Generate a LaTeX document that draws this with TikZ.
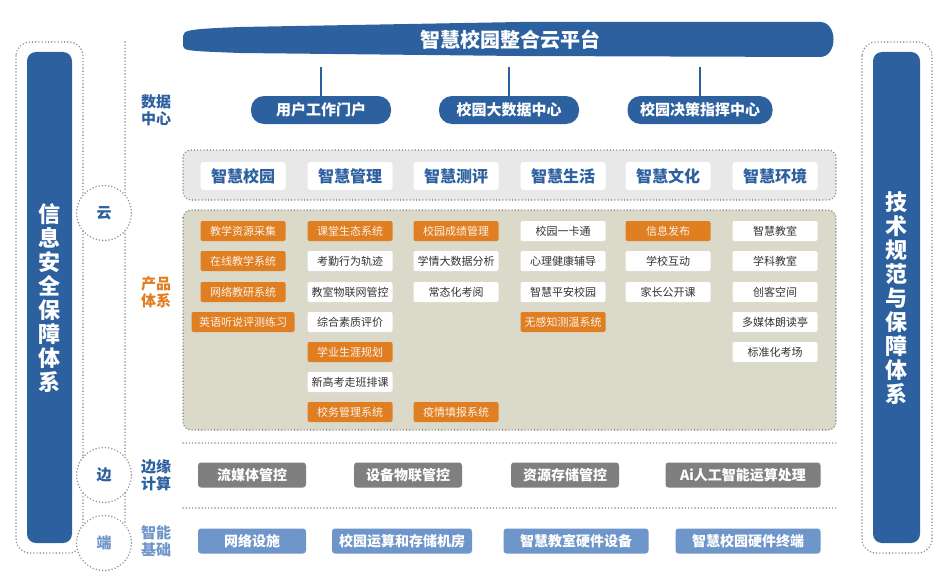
\documentclass[tikz,border=0pt]{standalone}
\usepackage{fontspec}
\setmainfont{Noto Sans CJK SC}
\usetikzlibrary{shapes.geometric}
\definecolor{mblue}{HTML}{2D609F}
\definecolor{morange}{HTML}{E07F22}
\definecolor{mgray}{HTML}{7F7F7F}
\definecolor{lblue}{HTML}{6F96CA}
\definecolor{beige}{HTML}{DBD9C9}
\definecolor{lgray}{HTML}{E8E8E8}
\definecolor{dotc}{HTML}{8A8A8A}
\tikzset{
 dots/.style={draw=dotc,line width=1.6pt,dash pattern=on 0pt off 3.2pt,line cap=round},
 pill/.style={fill=mblue,text=white,rounded corners=13pt,minimum height=28pt,font=\bfseries\fontsize{15}{15}\selectfont,inner xsep=8pt},
 cat/.style={fill=white,text=mblue,rounded corners=3pt,minimum width=85pt,minimum height=28pt,font=\bfseries\fontsize{16}{16}\selectfont},
 it/.style={fill=white,text=black!80,rounded corners=2pt,minimum width=85pt,minimum height=20pt,inner xsep=2pt,font=\mdseries\fontsize{11}{11}\selectfont},
 ito/.style={it,fill=morange,text=white!90!morange},
 edge/.style={fill=mgray,text=white,rounded corners=3pt,minimum height=25pt,font=\bfseries\fontsize{14}{14}\selectfont},
 base/.style={edge,fill=lblue},
 lab/.style={font=\bfseries\fontsize{15}{17}\selectfont,align=center},
 bar/.style={fill=mblue,rounded corners=9pt},
 circ/.style={dots,circle,minimum size=55pt,fill=white,font=\bfseries\fontsize{15}{15}\selectfont}
}
\begin{document}
\begin{tikzpicture}[x=1pt,y=-1pt]
\useasboundingbox (0,0) rectangle (948,578);
\fill[white] (0,0) rectangle (948,578);
\bfseries
% left & right frames
\draw[dots,rounded corners=14pt] (16,42) rectangle (83,553);
\fill[bar] (27,52) rectangle (72,543);
\node[text=white,font=\bfseries\fontsize{22}{24}\selectfont,align=center] (lt) at (49.5,298) {信\\息\\安\\全\\保\\障\\体\\系};
\draw[dots] (125,42) -- (125,525);
\draw[dots,rounded corners=14pt] (862,42) rectangle (932,553);
\fill[bar] (873,52) rectangle (920,543);
\node[text=white,font=\bfseries\fontsize{22}{24}\selectfont,align=center] (rt) at (896.5,298) {技\\术\\规\\范\\与\\保\\障\\体\\系};
\node[circ,text=mblue] (c1) at (104,213) {云};
\node[circ,text=mblue] (c2) at (104,475) {边};
\node[circ,text=lblue] (c3) at (104,543) {端};
% banner
\fill[mblue] (183,36) .. controls (183,30) and (190,29) .. (240,27) -- (520,22) -- (820,22) .. controls (838,22) and (838,57) .. (820,57) -- (520,56) -- (240,53) .. controls (190,51) and (183,51) .. (183,46) -- cycle;
\node[text=white,font=\bfseries\fontsize{20}{20}\selectfont] (ban) at (510,40) {智慧校园整合云平台};
\coordinate (t1) at (321,67); \coordinate (t2) at (509,67); \coordinate (t3) at (700,67);
\node[pill,minimum width=140pt] (p1) at (321,110) {用户工作门户};
\node[pill,minimum width=140pt] (p2) at (509,110) {校园大数据中心};
\node[pill,minimum width=145pt] (p3) at (700,110) {校园决策指挥中心};
\foreach \a/\b in {t1/p1,t2/p2,t3/p3} \draw[mblue,line width=2pt] (\a) -- (\b);
\node[lab,text=mblue] (l1) at (156,110) {数据\\中心};
% categories
\draw[dots,fill=lgray,rounded corners=8pt] (183,150) rectangle (836,200);
\foreach \n/\x/\t in {k1/243/智慧校园,k2/350/智慧管理,k3/456/智慧测评,k4/563/智慧生活,k5/668/智慧文化,k6/775/智慧环境}
  \node[cat] (\n) at (\x,176) {\t};
% products
\draw[dots,fill=beige,rounded corners=8pt] (183,210) rectangle (836,430);
\node[lab,text=morange] (l2) at (156,292) {产品\\体系};
\node[ito] (a1) at (243,231) {教学资源采集};
\node[ito] (a2) at (243,261) {在线教学系统};
\node[ito] (a3) at (243,292) {网络教研系统};
\node[ito,minimum width=103pt] (a4) at (243,322) {英语听说评测练习};
\node[ito] (b1) at (350,231) {课堂生态系统};
\node[it] (b2) at (350,261) {考勤行为轨迹};
\node[it] (b3) at (350,292) {教室物联网管控};
\node[it] (b4) at (350,322) {综合素质评价};
\node[ito] (b5) at (350,352) {学业生涯规划};
\node[it] (b6) at (350,382) {新高考走班排课};
\node[ito] (b7) at (350,412) {校务管理系统};
\node[ito] (d1) at (456,231) {校园成绩管理};
\node[it] (d2) at (456,261) {学情大数据分析};
\node[it] (d3) at (456,292) {常态化考阅};
\node[ito] (d7) at (456,412) {疫情填报系统};
\node[it] (e1) at (563,231) {校园一卡通};
\node[it] (e2) at (563,261) {心理健康辅导};
\node[it] (e3) at (563,292) {智慧平安校园};
\node[ito] (e4) at (563,322) {无感知测温系统};
\node[ito] (f1) at (668,231) {信息发布};
\node[it] (f2) at (668,261) {学校互动};
\node[it] (f3) at (668,292) {家长公开课};
\node[it] (g1) at (775,231) {智慧教室};
\node[it] (g2) at (775,261) {学科教室};
\node[it] (g3) at (775,292) {创客空间};
\node[it] (g4) at (775,322) {多媒体朗读亭};
\node[it] (g5) at (775,352) {标准化考场};
% edge
\draw[dots] (183,443) -- (836,443);
\node[lab,text=mblue] (l3) at (156,475) {边缘\\计算};
\node[edge,minimum width=108pt] (h1) at (252,475) {流媒体管控};
\node[edge,minimum width=108pt] (h2) at (408,475) {设备物联管控};
\node[edge,minimum width=108pt] (h3) at (565,475) {资源存储管控};
\node[edge,minimum width=155pt] (h4) at (743,475) {Ai人工智能运算处理};
% base
\draw[dots] (183,508) -- (836,508);
\node[lab,text=lblue] (l4) at (156,541) {智能\\基础};
\node[base,minimum width=108pt] (i1) at (252,541) {网络设施};
\node[base,minimum width=140pt] (i2) at (402,541) {校园运算和存储机房};
\node[base,minimum width=145pt] (i3) at (576,541) {智慧教室硬件设备};
\node[base,minimum width=145pt] (i4) at (748,541) {智慧校园硬件终端};
\end{tikzpicture}
\end{document}
